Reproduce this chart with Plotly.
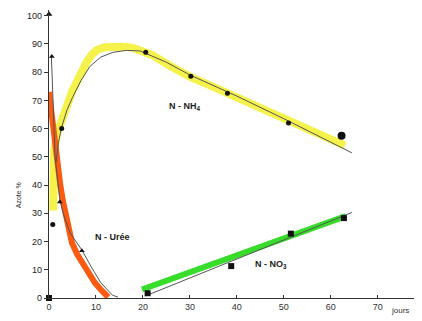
import plotly.graph_objects as go

# ---- data ----
uree_x = [0.0, 0.5, 0.9, 1.4, 1.9, 2.4, 3.0, 3.8, 4.9, 6.0, 7.2, 8.5, 9.8, 11.2, 12.6]
uree_y = [73, 66, 57, 52, 46, 40, 34, 27, 19.5, 15.5, 12.4, 9, 5.3, 2.7, 0.3]

nh4_x = [0.9, 0.95, 1.1, 1.7, 2.6, 3.8, 4.9, 6.0, 7.0, 8.0, 9.0, 10.2, 11.8, 13.6, 15.8, 17.9, 20, 22, 26, 30, 35, 40, 45, 50, 55, 59, 63]
nh4_y = [31, 45, 52, 58, 63, 68, 73, 77, 80.5, 83.5, 86, 87.8, 88.8, 89.2, 89, 88.6, 87.5, 86, 82, 78.4, 74.8, 71, 67.3, 63.6, 60, 57, 54]

no3_x = [19.8, 63.2]
no3_y = [3.0, 29.0]

fit_uree_x = [0.5, 0.9, 1.3, 2.3, 3.2, 4.5, 7.0, 9.0, 11.0, 13.5, 14.7]
fit_uree_y = [86, 65, 50, 35, 29, 23, 17, 11, 5.5, 1, 0.3]
fit_nh4_x = [1.5, 2.0, 2.7, 3.8, 5.0, 6.8, 8.7, 11.0, 13.6, 16.5, 19.4, 25, 30, 40, 50, 64.5]
fit_nh4_y = [48, 55, 60.5, 66.5, 71, 77, 82, 85.3, 87, 87.7, 87.5, 83.5, 79, 71.5, 63.5, 51.4]
fit_no3_x = [20.5, 64.5]
fit_no3_y = [0.7, 30.3]

pts_uree_x = [0.6, 2.3, 7.0]
pts_uree_y = [85.5, 34, 16.7]
pts_nh4_x = [0.8, 2.7, 20.6, 30.2, 38.0, 51.0]
pts_nh4_y = [26, 60, 87, 78.5, 72.5, 62]
pts_nh4_big_x = [62.3]
pts_nh4_big_y = [57.5]
pts_no3_x = [0.0, 21.0, 38.8, 51.5, 62.8]
pts_no3_y = [0.0, 1.7, 11.3, 22.8, 28.3]
arrow_x = [0.0]
arrow_y = [100.5]

x_ticks = [0, 10, 20, 30, 40, 50, 60, 70]
x_tick_text = ["0", "10", "20", "30", "40", "50", "60", "70"]
y_ticks = [0, 10, 20, 30, 40, 50, 60, 70, 80, 90, 100]

fig = go.Figure()

# thick coloured curves
fig.add_trace(go.Scatter(x=nh4_x, y=nh4_y, mode="lines", line=dict(color="#f6f24c", width=8), hoverinfo="skip"))
fig.add_trace(go.Scatter(x=uree_x, y=uree_y, mode="lines", line=dict(color="#fb5a10", width=6), hoverinfo="skip"))
fig.add_trace(go.Scatter(x=no3_x, y=no3_y, mode="lines", line=dict(color="#38dd2c", width=6), hoverinfo="skip"))

# thin fitted curves
for fx, fy in [(fit_uree_x, fit_uree_y), (fit_nh4_x, fit_nh4_y), (fit_no3_x, fit_no3_y)]:
    fig.add_trace(go.Scatter(x=fx, y=fy, mode="lines", line=dict(color="#555555", width=1), hoverinfo="skip"))

# measured points
fig.add_trace(go.Scatter(x=pts_uree_x, y=pts_uree_y, mode="markers", marker=dict(color="#111", size=5, symbol="triangle-up"), cliponaxis=False))
fig.add_trace(go.Scatter(x=pts_nh4_x, y=pts_nh4_y, mode="markers", marker=dict(color="#111", size=5), cliponaxis=False))
fig.add_trace(go.Scatter(x=pts_nh4_big_x, y=pts_nh4_big_y, mode="markers", marker=dict(color="#111", size=8), cliponaxis=False))
fig.add_trace(go.Scatter(x=pts_no3_x, y=pts_no3_y, mode="markers", marker=dict(color="#111", size=6, symbol="square"), cliponaxis=False))
fig.add_trace(go.Scatter(x=arrow_x, y=arrow_y, mode="markers", marker=dict(color="#111", size=6, symbol="triangle-up"), cliponaxis=False))

font_lbl = dict(family="Liberation Sans", size=9, color="#222")

fig.add_annotation(x=29, y=68, text="<b>N - NH<sub>4</sub></b>", showarrow=False, font=font_lbl)
fig.add_annotation(x=13.6, y=21.6, text="<b>N - Urée</b>", showarrow=False, font=font_lbl)
fig.add_annotation(x=47.2, y=11.7, text="<b>N - NO<sub>3</sub></b>", showarrow=False, font=font_lbl)
fig.add_annotation(x=74.8, xref="x", yref="paper", y=0, yanchor="top", yshift=-6, text="jours", showarrow=False,
                   font=dict(family="Liberation Sans", size=8, color="#333"))
fig.add_annotation(xref="paper", yref="paper", x=-0.097, y=0.355, text="Azote %", textangle=-90, showarrow=False,
                   font=dict(family="Liberation Sans", size=7, color="#333"))

# the page body has an 8 px default margin, so the figure is sized to fit the 422x321 window
fig.update_layout(
    width=414, height=313,
    margin=dict(l=41, r=2, t=2, b=23),
    paper_bgcolor="white", plot_bgcolor="white",
    showlegend=False,
    xaxis=dict(range=[0, 79], tickvals=x_ticks, ticktext=x_tick_text, showgrid=False, zeroline=False,
               showline=True, linecolor="#333", linewidth=1, ticks="inside", ticklen=3, tickcolor="#333",
               tickfont=dict(family="Liberation Sans", size=9, color="#333")),
    yaxis=dict(range=[0, 102], tickvals=y_ticks, showgrid=False, zeroline=False,
               showline=True, linecolor="#333", linewidth=1.2, ticks="outside", ticklen=4, tickcolor="#333",
               tickfont=dict(family="Liberation Sans", size=9, color="#222")),
)

fig.write_html("out.html")
